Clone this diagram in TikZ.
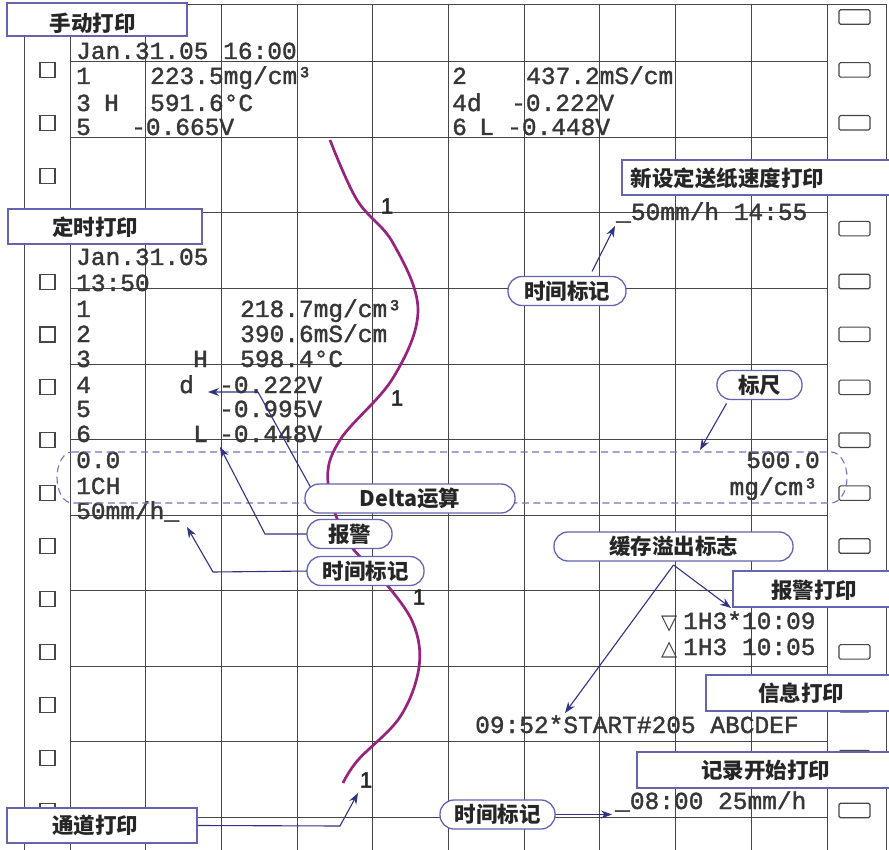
\documentclass[tikz,border=0pt]{standalone}
\usepackage{fontspec}
\usetikzlibrary{arrows.meta}
\newfontfamily\cjk{Noto Sans CJK SC}
\newfontfamily\monof{Liberation Mono}[FakeBold=1.5]
\newfontfamily\sansf{Liberation Sans}[FakeBold=2]
\newfontfamily\symf{DejaVu Sans}
\definecolor{gridc}{RGB}{70,70,70}
\definecolor{boxc}{RGB}{100,100,175}
\definecolor{dashc}{RGB}{115,115,190}
\definecolor{arrc}{RGB}{50,50,130}
\definecolor{curvec}{RGB}{150,35,125}
\definecolor{txtc}{RGB}{55,55,55}
\begin{document}
\begin{tikzpicture}[x=1pt,y=-1pt,
  gridline/.style={gridc, line width=1pt},
  hole/.style={draw=gridc, line width=1.1pt, fill=white, inner sep=0pt},
  mono/.style={font=\monof\fontsize{24.5}{26}\selectfont, text=txtc, inner sep=0pt, anchor=base west},
  monor/.style={mono, anchor=base east},
  sym/.style={font=\symf\fontsize{21}{24}\selectfont, text=txtc, inner sep=0pt, anchor=base west},
  pbox/.style={draw=boxc, fill=white, line width=1.3pt, inner sep=0pt},
  pill/.style={pbox, rounded corners=14pt, minimum height=29pt, font=\cjk\bfseries\fontsize{21.5}{24}\selectfont, text=black!85},
  lbl/.style={font=\cjk\bfseries\fontsize{21.5}{24}\selectfont, inner sep=0pt, text=black!85},
  arr/.style={arrc, line width=1.1pt, -{Stealth[length=11pt,width=8pt]}},
  chlabel/.style={font=\sansf\fontsize{22}{26}\selectfont, inner sep=0pt, text=black!85}
]
\useasboundingbox (0,0) rectangle (889,850);
\fill[white] (0,0) rectangle (889,850);
% grid
\foreach \i in {0,...,10} { \draw[gridline] ({70+75.7*\i},5) -- ({70+75.7*\i},850); }
\foreach \j in {0,...,10} { \draw[gridline] (70,{62+75.5*\j}) -- (827,{62+75.5*\j}); }
\draw[gridline] (24,850) -- (24,5) -- (886,5) -- (886,850);
% sprocket holes
\foreach \k in {0,...,14} { \node[hole, minimum size=15pt] (lh\k) at (47.5,{70+52.9*\k}) {}; }
\foreach \k in {0,...,15} { \node[hole, rounded corners=1.5pt, minimum width=31pt, minimum height=14.5pt] (rh\k) at (854.5,{17+52.9*\k}) {}; }
% manual print texts
\node[mono] (m1) at (76,59) {Jan.31.05 16:00};
\node[mono] (m2a) at (76,84) {1};
\node[mono] (m2b) at (150,84) {223.5mg/cm³};
\node[mono] (m3a) at (76,111) {3};
\node[mono] (m3b) at (104,111) {H};
\node[mono] (m3c) at (150,111) {591.6°C};
\node[mono] (m4a) at (76,135) {5};
\node[mono] (m4b) at (131,135) {-0.665V};
\node[mono] (m5a) at (452,84) {2};
\node[mono] (m5b) at (526,84) {437.2mS/cm};
\node[mono] (m6a) at (452,111) {4d};
\node[mono] (m6b) at (511,111) {-0.222V};
\node[mono] (m7a) at (452,135) {6};
\node[mono] (m7b) at (479,135) {L};
\node[mono] (m7c) at (507,135) {-0.448V};
% timed print texts
\node[mono] (t1) at (76,265) {Jan.31.05};
\node[mono] (t2) at (76,291) {13:50};
\node[mono] (t3a) at (76,317) {1};
\node[mono] (t3b) at (240,317) {218.7mg/cm³};
\node[mono] (t4a) at (76,342) {2};
\node[mono] (t4b) at (240,342) {390.6mS/cm};
\node[mono] (t5a) at (76,367) {3};
\node[mono] (t5b) at (193,367) {H};
\node[mono] (t5c) at (240,367) {598.4°C};
\node[mono] (t6a) at (76,393) {4};
\node[mono] (t6b) at (179,393) {d};
\node[mono] (t6c) at (219,393) {-0.222V};
\node[mono] (t7a) at (76,417) {5};
\node[mono] (t7b) at (219,417) {-0.995V};
\node[mono] (t8a) at (76,442) {6};
\node[mono] (t8b) at (193,442) {L};
\node[mono] (t8c) at (219,442) {-0.448V};
% scale
\node[mono] (s1) at (76,468) {0.0};
\node[mono] (s2) at (76,494) {1CH};
\node[mono] (s3) at (76,519) {50mm/h\_};
\node[monor] (s4) at (820,468) {500.0};
\node[monor] (s5) at (818,495) {mg/cm³};
% right side prints
\node[mono] (p1) at (616,220) {\_50mm/h 14:55};
\node[sym] (p2a) at (661,629) {▽};
\node[mono] (p2b) at (683,629) {1H3*10:09};
\node[sym] (p3a) at (661,655) {△};
\node[mono] (p3b) at (683,655) {1H3 10:05};
\node[mono] (p4) at (475,733) {09:52*START\#205 ABCDEF};
\node[mono] (p5) at (615,809) {\_08:00 25mm/h};
% scale frame
\draw[dashc, line width=1.1pt, dash pattern=on 7pt off 4.5pt]
  (72,452) -- (831,452) .. controls (839.8,452) and (847,463.4) .. (847,477.5)
  .. controls (847,491.6) and (839.8,503) .. (831,503) -- (72,503)
  .. controls (63.7,503) and (57,491.6) .. (57,477.5)
  .. controls (57,463.4) and (63.7,452) .. (72,452) -- cycle;
% trend curve
\draw[curvec, line width=2.7pt] plot[smooth, tension=0.6] coordinates {(330,140) (357,200) (393,243) (418,310) (393,378) (340,440) (328,483) (347,540) (383,580) (413,623) (419,667) (400,717) (358,760) (343,783)};
\node[chlabel] (c1) at (387,206) {1};
\node[chlabel] (c2) at (397,398) {1};
\node[chlabel] (c3) at (419,597) {1};
\node[chlabel] (c4) at (366,780) {1};
% boxes
\node[pbox, minimum width=180pt, minimum height=33pt] (manual) at (97,19.5) {};
\node[lbl] (manualt) at (92.5,23) {手动打印};
\node[pbox, minimum width=194pt, minimum height=35pt] (timed) at (105,226.5) {};
\node[lbl] (timedt) at (95,227) {定时打印};
\node[pbox, minimum width=190pt, minimum height=35pt] (chan) at (102,825.5) {};
\node[lbl] (chant) at (95,825) {通道打印};
\node[pbox, minimum width=278pt, minimum height=35pt] (speed) at (761,177.5) {};
\node[lbl] (speedt) at (727.5,178) {新设定送纸速度打印};
\node[pbox, minimum width=167pt, minimum height=36pt] (alarmp) at (816.5,589) {};
\node[lbl] (alarmpt) at (814,590) {报警打印};
\node[pbox, minimum width=194pt, minimum height=36pt] (info) at (803,693) {};
\node[lbl] (infot) at (801,693) {信息打印};
\node[pbox, minimum width=263pt, minimum height=36pt] (start) at (768.5,770) {};
\node[lbl] (startt) at (765.5,770) {记录开始打印};
% arrow targets
\coordinate (a1) at (615,226);
\coordinate (a2) at (700,450);
\coordinate (d1) at (258,392);
\coordinate (a3) at (208,392);
\coordinate (e1) at (265,534);
\coordinate (a4) at (220,447);
\coordinate (f1) at (213,572);
\coordinate (a5) at (187,527);
\coordinate (b0) at (673.5,565);
\coordinate (a6) at (731,608);
\coordinate (a7) at (565,713);
\coordinate (g1) at (340,826);
\coordinate (a8) at (358,793);
\coordinate (a9) at (612,814.5);
% connectors (drawn before the pills so that the pills cover their starts)
\draw[arr] (592,271.5) -- (a1);
\draw[arr] (726.5,403.5) -- (a2);
\draw[arr] (311,488) -- (d1) -- (a3);
\draw[arr] (310,534) -- (e1) -- (a4);
\draw[arr] (310,571) -- (f1) -- (a5);
\draw[arr] (b0) -- (a6);
\draw[arr] (b0) -- (a7);
\draw[arr] (chan.east) -- (g1) -- (a8);
\draw[arr] (552,814.5) -- (a9);
\node[pill, minimum width=118pt] (tm1) at (567,291) {时间标记};
\node[pill, minimum width=85pt] (ruler) at (759.5,385) {标尺};
\node[pill, minimum width=210pt] (delta) at (410,498.5) {Delta运算};
\node[pill, minimum width=85pt] (alarm) at (349.5,534) {报警};
\node[pill, minimum width=117pt] (tm2) at (365.5,571) {时间标记};
\node[pill, minimum width=239pt] (buf) at (673.5,546.5) {缓存溢出标志};
\node[pill, minimum width=115pt] (tm3) at (497.5,814.5) {时间标记};
\end{tikzpicture}
\end{document}
